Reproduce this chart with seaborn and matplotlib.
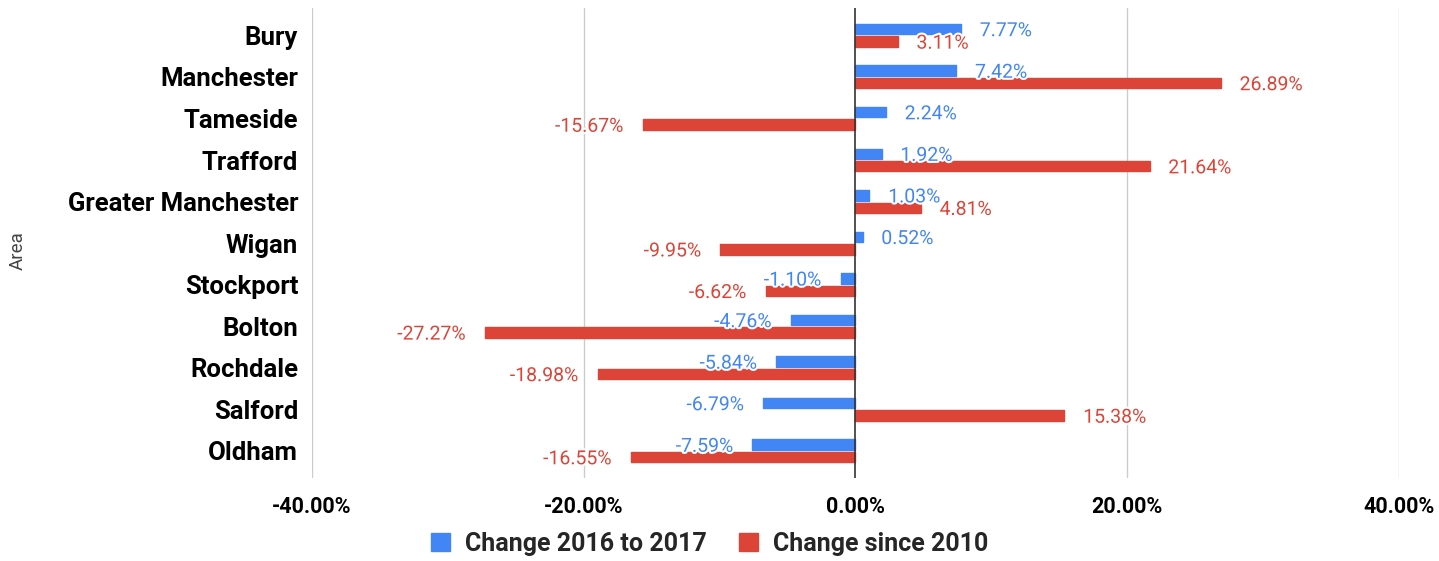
import matplotlib
matplotlib.use("Agg")
import matplotlib.pyplot as plt
import matplotlib.patheffects as pe
import pandas as pd
import seaborn as sns

areas = ["Bury", "Manchester", "Tameside", "Trafford", "Greater Manchester",
         "Wigan", "Stockport", "Bolton", "Rochdale", "Salford", "Oldham"]
change_2016_2017 = [7.77, 7.42, 2.24, 1.92, 1.03, 0.52, -1.10, -4.76, -5.84, -6.79, -7.59]
change_since_2010 = [3.11, 26.89, -15.67, 21.64, 4.81, -9.95, -6.62, -27.27, -18.98, 15.38, -16.55]
series_names = ["Change 2016 to 2017", "Change since 2010"]
x_ticks = [-40, -20, 0, 20, 40]

BLUE = "#4285F4"
RED = "#DB4437"

df = pd.DataFrame({
    "Area": areas * 2,
    "Change": change_2016_2017 + change_since_2010,
    "Series": [series_names[0]] * len(areas) + [series_names[1]] * len(areas),
})

sns.set_theme(style="white")
plt.rcParams["font.family"] = ["Roboto", "DejaVu Sans"]

fig = plt.figure(figsize=(14.39, 5.61), dpi=100)
ax = fig.add_axes([0.2168, 0.148, 0.7554, 0.8372])

sns.barplot(data=df, y="Area", x="Change", hue="Series", order=areas,
            hue_order=series_names, palette=[BLUE, RED], orient="h",
            width=0.6, gap=0.16, ax=ax, legend=False, saturation=1,
            err_kws={"linewidth": 0})

for patch in ax.patches:
    patch.set_edgecolor(patch.get_facecolor())
    patch.set_linewidth(1.0)
    patch.set_joinstyle("round")

# value labels beside each bar
halo = [pe.withStroke(linewidth=3, foreground="white")]
for container, color in zip(ax.containers, [BLUE, RED]):
    for bar, val in zip(container, container.datavalues):
        y = bar.get_y() + bar.get_height() / 2
        off = 13.5 if val >= 0 else -13.5
        ax.annotate(f"{val:.2f}%", xy=(val, y), xytext=(off, -1.5),
                    textcoords="offset points", ha="left" if val >= 0 else "right",
                    va="center", color=color, fontsize=14, path_effects=halo,
                    zorder=5)

ax.set_xlim(-40, 40)
ax.set_ylim(10.65, -0.65)
ax.set_xticks(x_ticks)
ax.set_xticklabels([f"{t:.2f}%" for t in x_ticks], fontweight="bold", fontsize=15.5)
for lbl in ax.get_yticklabels():
    lbl.set_fontweight("bold")
    lbl.set_fontsize(18.5)
ax.tick_params(axis="x", length=0, pad=13, colors="black")
ax.tick_params(axis="y", length=0, pad=10, colors="black")

for t in x_ticks:
    if t == 0:
        ax.axvline(t, color="#333333", linewidth=1.2, zorder=3)
    else:
        ax.axvline(t, color="#cccccc", linewidth=1.0, zorder=0)

for s in ax.spines.values():
    s.set_visible(False)

ax.set_xlabel("")
ax.set_ylabel("")
fig.text(0.012, 0.553, "Area", rotation=90, ha="center", va="center",
         fontsize=13.5, color="#444444")

handles = [plt.Rectangle((0, 0), 1, 1, facecolor=c, edgecolor=c, joinstyle="round")
           for c in [BLUE, RED]]
fig.legend(handles, series_names, loc="center", bbox_to_anchor=(0.493, 0.031),
           ncol=2, frameon=False, handlelength=0.75, handleheight=0.75,
           handletextpad=0.6, columnspacing=1.3,
           prop={"weight": "bold", "size": 18})

fig.savefig("out.png", dpi=100)
